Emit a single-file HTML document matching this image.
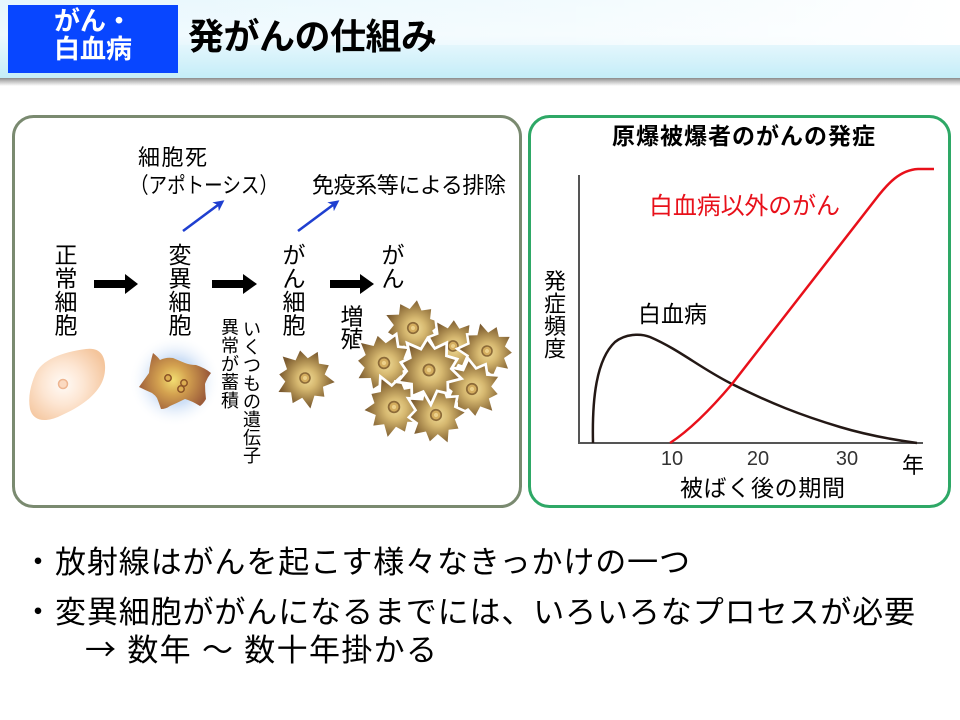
<!DOCTYPE html>
<html><head><meta charset="utf-8"><style>
html,body{margin:0;padding:0;background:#fff;}
svg{display:block;}
text{font-family:"Liberation Sans","Noto Sans CJK JP",sans-serif;}
</style></head><body>
<svg width="960" height="720" viewBox="0 0 960 720" xmlns="http://www.w3.org/2000/svg">
<defs>
<linearGradient id="hdr" x1="0" y1="0" x2="0" y2="1">
<stop offset="0" stop-color="#e6f7fd"/><stop offset="0.45" stop-color="#edf9fe"/><stop offset="1" stop-color="#c4edf8"/>
</linearGradient>
<linearGradient id="hdr2" x1="0" y1="0" x2="1" y2="0">
<stop offset="0" stop-color="#ffffff" stop-opacity="0"/><stop offset="0.6" stop-color="#ffffff" stop-opacity="0.5"/><stop offset="1" stop-color="#ffffff" stop-opacity="1"/>
</linearGradient>
<linearGradient id="shd" x1="0" y1="0" x2="0" y2="1">
<stop offset="0" stop-color="#8a8a8a"/><stop offset="0.35" stop-color="#b8b8b8"/><stop offset="1" stop-color="#ffffff"/>
</linearGradient>
<radialGradient id="norm" gradientUnits="userSpaceOnUse" cx="63" cy="384" r="46">
<stop offset="0" stop-color="#fffbf7"/><stop offset="0.45" stop-color="#fde6d3"/><stop offset="1" stop-color="#f4c59c"/>
</radialGradient>
<radialGradient id="glow" gradientUnits="userSpaceOnUse" cx="175" cy="381" r="46">
<stop offset="0.5" stop-color="#cfe0f6"/><stop offset="1" stop-color="#ffffff" stop-opacity="0"/>
</radialGradient>
<radialGradient id="mut" gradientUnits="userSpaceOnUse" cx="173" cy="380" r="36">
<stop offset="0" stop-color="#f3df72"/><stop offset="0.4" stop-color="#d4a250"/><stop offset="1" stop-color="#9c5c3a"/>
</radialGradient>
<radialGradient id="can" cx="0.5" cy="0.5" r="0.5">
<stop offset="0" stop-color="#f0dc98"/><stop offset="0.35" stop-color="#d6b870"/><stop offset="0.7" stop-color="#a4844a"/><stop offset="1" stop-color="#7a5a30"/>
</radialGradient>
<g id="cc">
<polygon fill="url(#can)" points="30,0 19,6.2 21.8,15.9 11.8,16.2 9.6,29.5 0,20 -8.7,26.6 -11.8,16.2 -24.3,17.6 -19,6.2 -26,0 -19,-6.2 -25.1,-18.2 -11.8,-16.2 -8.7,-26.6 0,-20 9,-27.6 11.8,-16.2 21.8,-15.9 19,-6.2"/>
<circle r="5" fill="#d4ad5e" stroke="#8c6a38" stroke-width="1.6"/>
<circle r="2" fill="#ecd08a" stroke="none"/>
</g>
<marker id="ah" markerWidth="11" markerHeight="11" refX="8" refY="5.5" orient="auto" markerUnits="userSpaceOnUse">
<path d="M0,0 L11,5.5 L0,11 L3,5.5 Z" fill="#1f3fd0"/>
</marker>
</defs>

<!-- header -->
<rect x="0" y="0" width="960" height="78" fill="url(#hdr)"/>
<rect x="0" y="0" width="960" height="45" fill="url(#hdr2)"/>
<rect x="0" y="78" width="960" height="8" fill="url(#shd)"/>
<rect x="8" y="5" width="170" height="68" fill="#0846ff"/>
<text x="93" y="30" font-size="26" font-weight="bold" fill="#fff" text-anchor="middle">がん・</text>
<text x="93" y="58" font-size="26" font-weight="bold" fill="#fff" text-anchor="middle">白血病</text>
<text x="188" y="49" font-size="36" font-weight="bold" fill="#000" textLength="249">発がんの仕組み</text>

<!-- panels -->
<rect x="13.5" y="116.5" width="507" height="390" rx="20" ry="20" fill="#fff" stroke="#7a8a70" stroke-width="3"/>
<rect x="529.5" y="116.5" width="420" height="390" rx="20" ry="20" fill="#fff" stroke="#2ea866" stroke-width="3"/>

<!-- left panel texts -->
<text x="138" y="165" font-size="22" fill="#000" textLength="69">細胞死</text>
<text x="130" y="193" font-size="22" fill="#000" textLength="148" lengthAdjust="spacingAndGlyphs">（アポトーシス）</text>
<text x="312" y="193" font-size="22" fill="#000" textLength="194">免疫系等による排除</text>

<line x1="183" y1="231" x2="222" y2="202" stroke="#1f3fd0" stroke-width="2.6" marker-end="url(#ah)"/>
<line x1="298" y1="231" x2="337" y2="202" stroke="#1f3fd0" stroke-width="2.6" marker-end="url(#ah)"/>

<g font-size="23" fill="#000" text-anchor="middle">
<text x="66" y="263">正</text><text x="66" y="286.5">常</text><text x="66" y="310">細</text><text x="66" y="333.5">胞</text>
<text x="180" y="263">変</text><text x="180" y="286.5">異</text><text x="180" y="310">細</text><text x="180" y="333.5">胞</text>
<text x="294" y="263">が</text><text x="294" y="286.5">ん</text><text x="294" y="310">細</text><text x="294" y="333.5">胞</text>
<text x="393" y="263">が</text><text x="393" y="286.5">ん</text>
<text x="352" y="324.5">増</text><text x="352" y="347">殖</text>
</g>
<g font-size="18" fill="#000" text-anchor="middle">
<text x="252" y="335.5">い</text><text x="252" y="353.6">く</text><text x="252" y="371.7">つ</text><text x="252" y="389.8">も</text><text x="252" y="407.9">の</text><text x="252" y="426">遺</text><text x="252" y="444.1">伝</text><text x="252" y="462.2">子</text>
<text x="230" y="333.5">異</text><text x="230" y="351.9">常</text><text x="230" y="370.3">が</text><text x="230" y="388.7">蓄</text><text x="230" y="407.1">積</text>
</g>

<polygon fill="#000" points="94,280 125,280 125,274 138,284 125,294 125,288 94,288"/>
<polygon fill="#000" points="212,280 243,280 243,274 257,284 243,294 243,288 212,288"/>
<polygon fill="#000" points="330,280 360,280 360,274 374,284 360,294 360,288 330,288"/>

<!-- normal cell -->
<path d="M35,375 C41,360 62,352 86,349 C100,347 106,356 105,370 C104,390 85,405 60,416 C45,423 33,421 30,409 C28,398 30,387 35,375 Z" fill="url(#norm)"/>
<circle cx="63" cy="384" r="4.5" fill="#fbd9c0" stroke="#eeb590" stroke-width="1.5"/>

<!-- mutated cell -->
<circle cx="175" cy="381" r="48" fill="url(#glow)"/>
<path d="M153,353 Q158,357 160,360 Q166,357 173,358 Q180,361 185,363 Q190,365 196,365 Q205,368 211,373 Q207,378 205,384 Q205,391 206,399 Q203,404 200,406 Q192,401 185,399 Q177,403 170,406 Q166,409 161,409 Q159,403 157,398 Q155,395 152,393 Q145,390 139,387 Q144,380 149,373 Q150,363 153,353 Z" fill="url(#mut)"/>
<circle cx="168" cy="378" r="3.2" fill="#dcae52" stroke="#8a5226" stroke-width="1.5"/>
<circle cx="184" cy="383" r="3.2" fill="#dcae52" stroke="#8a5226" stroke-width="1.5"/>
<circle cx="181" cy="389" r="3.2" fill="#dcae52" stroke="#8a5226" stroke-width="1.5"/>

<!-- single cancer cell -->
<use href="#cc" transform="translate(305,378) rotate(8)"/>

<!-- cluster -->
<g stroke="#fff" stroke-width="2.5">
<use href="#cc" transform="translate(413,328) rotate(-10) scale(1.05)"/>
<use href="#cc" transform="translate(453,346) rotate(20) scale(1.0)"/>
<use href="#cc" transform="translate(487,351) rotate(40) scale(1.0)"/>
<use href="#cc" transform="translate(384,363) rotate(5) scale(1.08)"/>
<use href="#cc" transform="translate(472,389) rotate(-25) scale(1.05)"/>
<use href="#cc" transform="translate(394,407) rotate(30) scale(1.08)"/>
<use href="#cc" transform="translate(436,415) rotate(-5) scale(1.05)"/>
<use href="#cc" transform="translate(429,370) rotate(15) scale(1.12)"/>
</g>

<!-- right panel -->
<text x="612" y="144" font-size="23" font-weight="bold" fill="#000" textLength="263">原爆被爆者のがんの発症</text>
<path d="M579,175 V443 H923" fill="none" stroke="#555" stroke-width="2"/>
<path d="M593,443 C592,400 596,360 615,342 C625,334 640,333 650,337 C680,350 700,368 732,384 C770,403 800,415 840,427 C870,436 895,440 917,443" fill="none" stroke="#231815" stroke-width="2.5"/>
<path d="M670,443 C690,430 710,410 732,384 L875,200 C888,183 900,170 918,169 L934,169" fill="none" stroke="#e8101a" stroke-width="2.5"/>
<text x="649" y="214" font-size="24" fill="#e8101a" textLength="191">白血病以外のがん</text>
<text x="638" y="322" font-size="23" fill="#000" textLength="69">白血病</text>
<g font-size="22" fill="#000" text-anchor="middle">
<text x="555" y="289">発</text><text x="555" y="311.5">症</text><text x="555" y="334">頻</text><text x="555" y="356.5">度</text>
</g>
<g font-size="20" fill="#333" text-anchor="middle">
<text x="672" y="465">10</text><text x="758" y="465">20</text><text x="847" y="465">30</text>
</g>
<text x="913" y="473" font-size="22" fill="#000" text-anchor="middle">年</text>
<text x="680" y="496" font-size="23" fill="#000" textLength="165">被ばく後の期間</text>

<!-- bullets -->
<g font-size="31" fill="#000">
<text x="38" y="573" text-anchor="middle">・</text>
<text x="55" y="573" textLength="635">放射線はがんを起こす様々なきっかけの一つ</text>
<text x="38" y="623" text-anchor="middle">・</text>
<text x="55" y="623" textLength="860">変異細胞ががんになるまでには、いろいろなプロセスが必要</text>
<text x="85" y="661" textLength="352"><tspan font-family="'Noto Sans CJK JP',sans-serif">→</tspan> 数年 ～ 数十年掛かる</text>
</g>
</svg>
</body></html>
